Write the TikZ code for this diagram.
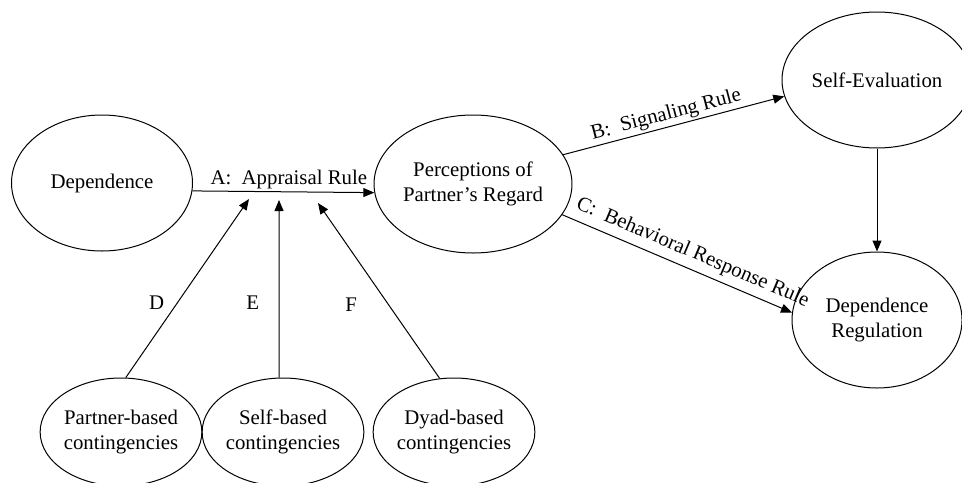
\documentclass[tikz,border=0pt]{standalone}
\usepackage{fontspec}
\setmainfont{Liberation Serif}
\usetikzlibrary{arrows.meta, shapes.geometric}
\tikzset{
  oval/.style={
    ellipse,
    draw,
    line width=0.5pt,
    align=center,
    inner sep=0pt,
    font=\fontsize{10.4}{12.5}\selectfont
  },
  arrow/.style={-{Triangle[length=5.5pt,width=4.5pt]}, line width=0.5pt},
  rulelabel/.style={font=\fontsize{10.4}{12.5}\selectfont, inner sep=1pt},
  letter/.style={font=\fontsize{10.4}{12.5}\selectfont, inner sep=1pt}
}
\begin{document}
\begin{tikzpicture}[x=0.5pt, y=-0.5pt]
  \useasboundingbox (0,0) rectangle (962,482);

  % top row
  \node[oval, minimum width=90.5pt, minimum height=68pt] (dep) at (102,183) {Dependence};
  \node[oval, minimum width=90pt, minimum height=69pt] (perc) at (473,184)
        {Perceptions of\\Partner's Regard};
  \node[oval, minimum width=95pt, minimum height=68pt] (selfeval) at (877,80) {Self-Evaluation};
  \node[oval, minimum width=85pt, minimum height=68pt] (depreg) at (877,320)
        {Dependence\\Regulation};

  % contingencies
  \node[oval, minimum width=71.5pt, minimum height=54pt] (partner) at (121,432)
        {Partner-based\\contingencies};
  \node[oval, minimum width=71pt, minimum height=54pt] (selfb) at (283,432)
        {Self-based\\contingencies};
  \node[oval, minimum width=71pt, minimum height=54pt] (dyad) at (454,432)
        {Dyad-based\\contingencies};

  \coordinate (dtip) at (249,199);
  \coordinate (etip) at (279,200);
  \coordinate (ftip) at (318,203);

  \draw[arrow] (dep.-5) -- node[rulelabel, above, pos=0.53]{A:~ Appraisal Rule} (perc.185);
  \draw[arrow] (perc.18) -- node[rulelabel, above, sloped, pos=0.48]{B:~ Signaling Rule} (selfeval.190);
  \draw[arrow] (perc.-19) -- node[rulelabel, above, sloped, pos=0.54, inner sep=3pt]{C:~ Behavioral Response Rule} (depreg.175);
  \draw[arrow] (selfeval) -- (depreg);

  \draw[arrow] (partner.85) -- node[letter, pos=0.42, left=5.5pt]{D} (dtip);
  \draw[arrow] (selfb.94) -- node[letter, pos=0.42, left=8.8pt]{E} (etip);
  \draw[arrow] (dyad.105) -- node[letter, pos=0.42, left=14.5pt]{F} (ftip);
\end{tikzpicture}
\end{document}
